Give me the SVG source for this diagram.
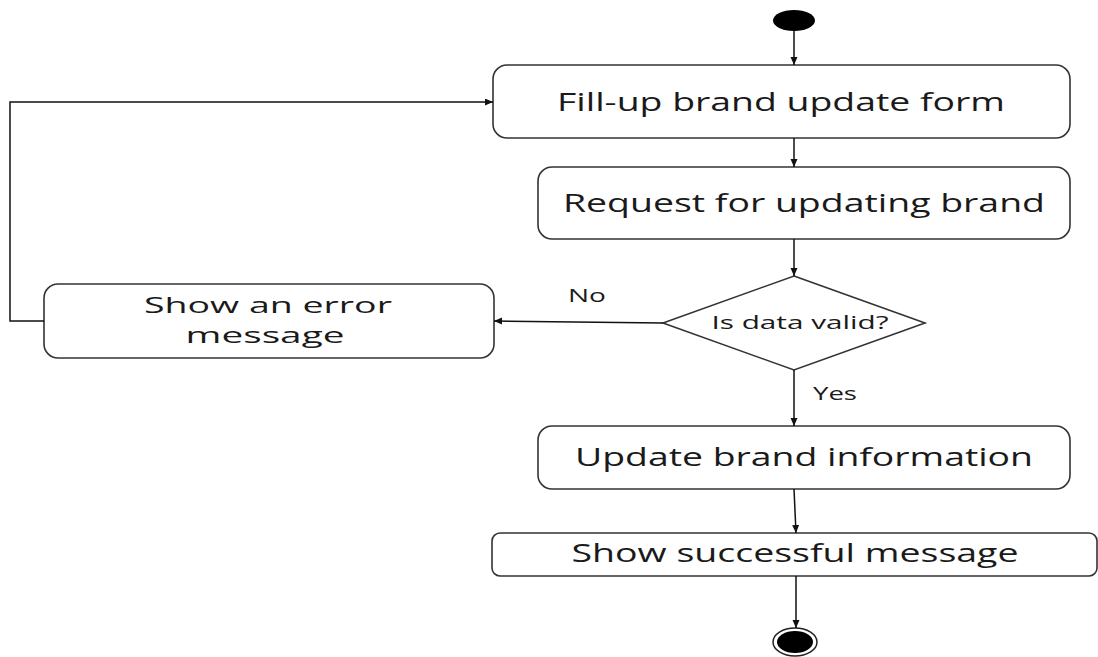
<svg xmlns="http://www.w3.org/2000/svg" width="1098" height="657" viewBox="0 0 1098 657">
<defs>
<marker id="arr" markerUnits="userSpaceOnUse" markerWidth="9" markerHeight="8" refX="8" refY="3.5" orient="auto">
<path d="M0,0 L8,3.5 L0,7 z" fill="#111"/>
</marker>
<style>
.box{fill:#fff;stroke:#333;stroke-width:1.6}
.lbl{font-family:"Open Sans","Noto Sans","Liberation Sans",sans-serif;fill:#1a1a1a;text-anchor:middle}
.big{font-size:25px}
.mid{font-size:21px}
.small{font-size:18px}
.conn{fill:none;stroke:#111;stroke-width:1.5;marker-end:url(#arr)}
</style>
</defs>
<rect width="1098" height="657" fill="#fff"/>
<g id="start"><ellipse cx="794" cy="20.5" rx="21" ry="10.5" fill="#000"/></g>
<g id="fillup"><rect class="box" x="493" y="65" width="577" height="73" rx="14" ry="14"/>
<text class="lbl big" x="781" y="111" textLength="448" lengthAdjust="spacingAndGlyphs">Fill-up brand update form</text></g>
<g id="request"><rect class="box" x="538" y="167" width="532" height="72" rx="14" ry="14"/>
<text class="lbl big" x="804" y="212" textLength="482" lengthAdjust="spacingAndGlyphs">Request for updating brand</text></g>
<g id="decision"><polygon class="box" points="794,276 925,323 794,370 663,323"/>
<text class="lbl small" x="800" y="329" textLength="177" lengthAdjust="spacingAndGlyphs">Is data valid?</text></g>
<g id="error"><rect class="box" x="44" y="284" width="450" height="74" rx="14" ry="14"/>
<text class="lbl mid" x="268" y="313" textLength="248" lengthAdjust="spacingAndGlyphs">Show an error</text>
<text class="lbl mid" x="265" y="343" textLength="159" lengthAdjust="spacingAndGlyphs">message</text></g>
<g id="update"><rect class="box" x="538" y="426" width="532" height="63" rx="14" ry="14"/>
<text class="lbl big" x="804" y="466" textLength="458" lengthAdjust="spacingAndGlyphs">Update brand information</text></g>
<g id="success"><rect class="box" x="492" y="533" width="605" height="43" rx="8" ry="8"/>
<text class="lbl big" x="795" y="562" textLength="447" lengthAdjust="spacingAndGlyphs">Show successful message</text></g>
<g id="end"><ellipse cx="795" cy="642" rx="22" ry="14" fill="#fff" stroke="#222" stroke-width="1.5"/>
<ellipse cx="795" cy="642" rx="18" ry="11" fill="#000"/></g>
<g id="connectors">
<path class="conn" d="M794,31 L794,65"/>
<path class="conn" d="M794,138 L794,167"/>
<path class="conn" d="M794,239 L794,276"/>
<path class="conn" d="M663,323 L494,321"/>
<path class="conn" d="M794,370 L794,426"/>
<path class="conn" d="M794,489 L796,533"/>
<path class="conn" d="M796,576 L796,628"/>
<path class="conn" d="M44,321 L10,321 L10,102 L493,102"/>
<text class="lbl small" x="587" y="302" textLength="38" lengthAdjust="spacingAndGlyphs">No</text>
<text class="lbl small" x="835" y="400" textLength="44" lengthAdjust="spacingAndGlyphs">Yes</text>
</g>
</svg>
